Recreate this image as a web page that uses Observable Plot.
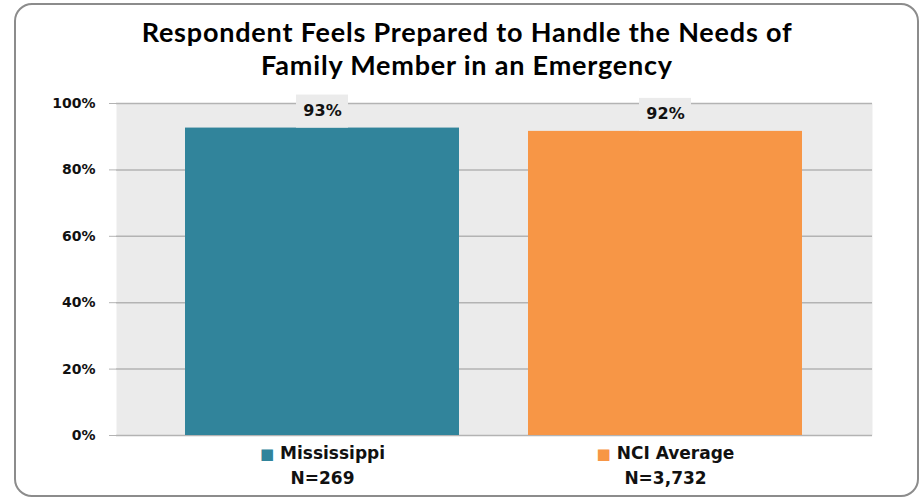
<!DOCTYPE html>
<html><head><meta charset="utf-8">
<script src="https://cdn.jsdelivr.net/npm/d3@7"></script>
<script src="https://cdn.jsdelivr.net/npm/@observablehq/plot@0.6"></script>
<style>
body{margin:0;background:#fff;}
#wrap{position:relative;width:921px;height:498px;overflow:hidden;}
#frame{position:absolute;left:14px;top:3px;width:905px;height:494px;box-sizing:border-box;border:2.5px solid #8c8c8c;border-radius:18px;pointer-events:none;}
#title{height:95px;box-sizing:border-box;padding-top:15px;padding-left:13px;text-align:center;font-family:Lato,sans-serif;font-weight:700;font-size:27px;letter-spacing:0.8px;line-height:33px;color:#000;}
#chart svg{display:block}
</style></head><body>
<div id="wrap"><div id="frame"></div><div id="title">Respondent Feels Prepared to Handle the Needs of<br>Family Member in an Emergency</div><div id="chart"></div></div>
<script>
const categories = ["Mississippi", "NCI Average"];
const sampleSizes = ["N=269", "N=3,732"];
const values = [92.6, 91.6];
const colors = ["#31849B", "#F79646"];
const yTicks = [0, 20, 40, 60, 80, 100];

const data = categories.map((c, i) => ({category: c, n: sampleSizes[i], value: values[i]}));
const font = "DejaVu Sans";

const plot = Plot.plot({
  width: 921, height: 403,
  marginLeft: 116, marginRight: 49, marginTop: 8, marginBottom: 63,
  style: {fontFamily: font, background: "transparent", overflow: "visible"},
  x: {domain: categories, padding: 0.2, axis: null},
  y: {domain: [0, 100], axis: null},
  color: {domain: categories, range: colors},
  marks: [
    Plot.frame({fill: "#EBEBEB", stroke: null}),
    Plot.gridY(yTicks, {stroke: "#B3B3B3", strokeOpacity: 1, strokeWidth: 1.5}),
    Plot.axisY(yTicks, {tickSize: 7, tickPadding: 14, stroke: "#B3B3B3", strokeOpacity: 1, fill: "#111", fontSize: 14, fontWeight: "bold", tickFormat: d => d + "%", label: null, line: true}),
    Plot.barY(data, {x: "category", y: "value", fill: "category"}),
    Plot.barY(data, {x: "category", y1: "value", y2: "value", insetTop: -33, insetLeft: 111, insetRight: 111, fill: "#EBEBEB"}),
    Plot.text(data, {x: "category", y: "value", text: d => d3.format(".0f")(d.value) + "%", lineAnchor: "bottom", dy: -12, fontSize: 16, fontWeight: "bold", fill: "#111"}),
    Plot.text(data, {x: "category", y: 0, text: "category", lineAnchor: "bottom", dy: 23, fontSize: 17, fontWeight: "bold", fill: "#111"}),
    Plot.text(data, {x: "category", y: 0, text: "n", lineAnchor: "bottom", dy: 48, fontSize: 17, fontWeight: "bold", fill: "#111"})
  ]
});

d3.select(plot).selectAll("text").each(function() {
  const label = this.textContent;
  const k = categories.indexOf(label);
  if (k < 0 || this.querySelector("tspan")) return;
  const t = d3.select(this);
  t.text(null);
  t.append("tspan").attr("fill", colors[k]).attr("font-size", 15).text("\u25A0");
  t.append("tspan").text(" " + label);
});

document.getElementById("chart").appendChild(plot);
</script>
</body></html>
